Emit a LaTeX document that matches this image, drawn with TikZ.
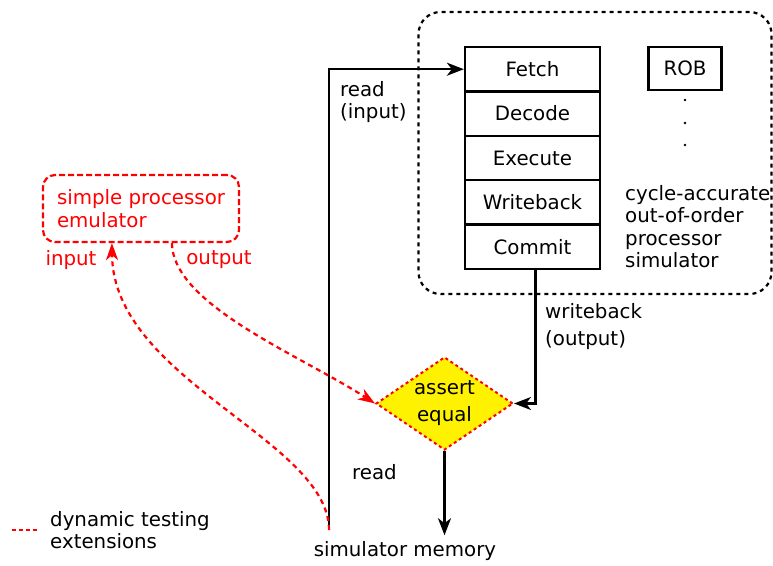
\documentclass[tikz,border=0pt]{standalone}
\usepackage{fontspec}
\setmainfont{DejaVu Sans}
\usetikzlibrary{arrows.meta,shapes.geometric}
\begin{document}
\begin{tikzpicture}[x=1pt,y=-1pt,
  font=\fontsize{19.8}{22.5}\selectfont,
  blk/.style={line width=2.3pt},
  tip/.style={-{Stealth[length=17pt,width=13pt,inset=5pt]}},
  redtip/.style={-{Stealth[length=17pt,width=12pt,inset=5pt]}},
  reddash/.style={red,line width=2.2pt,dash pattern=on 5pt off 4pt},
  stagebox/.style={draw,line width=2.3pt,minimum width=135pt,minimum height=44.4pt,inner sep=0pt,anchor=center},
  lbl/.style={inner sep=0pt,align=left}
]
\useasboundingbox (0,0) rectangle (773,565);

% processor simulator container
\node[draw,line width=2.2pt,dash pattern=on 4pt off 4pt,rounded corners=22pt,
      minimum width=353pt,minimum height=282pt,inner sep=0pt] (cpu) at (595,153) {};

% pipeline stages
\node[stagebox] (fetch)  at (532.5,69.2)  {Fetch};
\node[stagebox] (decode) at (532.5,113.6) {Decode};
\node[stagebox] (exec)   at (532.5,158.0) {Execute};
\node[stagebox] (wb)     at (532.5,202.4) {Writeback};
\node[stagebox] (commit) at (532.5,246.8) {Commit};

\node[draw,line width=2.3pt,minimum width=73pt,minimum height=43pt,inner sep=0pt] (rob) at (685,68.5) {ROB};
\fill (685,100) circle (1.4pt);
\fill (685,123) circle (1.4pt);
\fill (685,145) circle (1.4pt);

\node[lbl,anchor=west] (cyc) at (625,226.5) {cycle-accurate\\out-of-order\\processor\\simulator};

% emulator
\node[draw=red,line width=2.2pt,dash pattern=on 6pt off 3pt,rounded corners=12pt,minimum width=196pt,minimum height=67pt,
      inner sep=0pt,text=red,align=left] (emu) at (141,208.5) {simple processor\\emulator};
\node[lbl,text=red] (inlbl) at (71,260) {input};
\node[lbl,text=red] (outlbl) at (219,260) {output};

% assert equal
\node[diamond,aspect=1.47,fill=yellow,draw=red,line width=2pt,dash pattern=on 3pt off 3pt,
      minimum width=137pt,minimum height=93pt,inner sep=0pt,align=center,
      font=\fontsize{19.8}{27}\selectfont] (assert) at (444.5,403.5) {assert\\equal};

% memory
\node[inner sep=4pt] (mem) at (405,551) {simulator memory};
\coordinate (memread) at (329,530);

% labels
\node[lbl,anchor=west] (readin) at (340,102) {read\\(input)};
\node[lbl,anchor=west,font=\fontsize{19.8}{27}\selectfont] (wblbl) at (545,326.5) {writeback\\(output)};
\node[lbl] (readlbl) at (374.5,472) {read};

% connectors
\draw[blk,tip] (memread) |- (fetch.west);
\draw[blk,tip] ([xshift=3pt]commit.south) |- (assert.east);
\draw[blk,tip] (assert.south) -- ([yshift=2pt]assert.south |- mem.north);

\draw[reddash,redtip] (memread) .. controls (329,440) and (113,380) .. ([xshift=70pt]emu.south west);
\draw[reddash,redtip] ([xshift=130pt]emu.south west) .. controls (173,305) and (300,355) .. (assert.west);

% legend
\coordinate (lga) at (12,530);
\coordinate (lgb) at (38,530);
\draw[red,line width=2.2pt,dash pattern=on 4pt off 3pt] (lga) -- (lgb);
\node[lbl,anchor=west] (lgtxt) at (50,530) {dynamic testing\\extensions};
\end{tikzpicture}
\end{document}
